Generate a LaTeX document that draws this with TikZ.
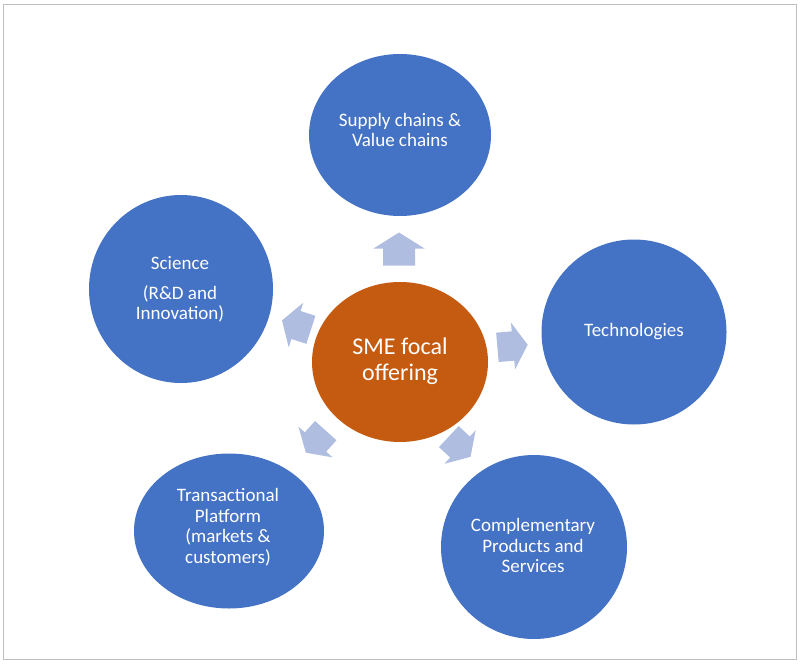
\documentclass[tikz,border=0pt]{standalone}
\usepackage{fontspec}
\setmainfont{Carlito}
\usetikzlibrary{shapes.geometric}
\definecolor{circblue}{HTML}{4472C4}
\definecolor{focalorange}{HTML}{C55A11}
\definecolor{arrowblue}{HTML}{AFBDE0}
\definecolor{framegray}{HTML}{BFBFBF}
\newcommand\radarrow[4]{\fill[blockarrow, shift={(#1,#2)}, rotate=#3, scale=#4]
  (-17,-16) -- (0,-16) -- (0,-25.5) -- (16,0) -- (0,25.5) -- (0,16) -- (-17,16) -- cycle;}
\begin{document}
\begin{tikzpicture}[x=1pt,y=1pt,
  outer/.style={ellipse, fill=circblue, draw=none, inner sep=0pt},
  focal/.style={ellipse, fill=focalorange, draw=none, inner sep=0pt},
  outertext/.style={text=white, font=\fontsize{19}{20.5}\selectfont, align=center, inner sep=0pt},
  focaltext/.style={text=white, font=\fontsize{24}{26.5}\selectfont, align=center, inner sep=0pt},
  blockarrow/.style={fill=arrowblue, draw=none}]
\useasboundingbox (0,0) rectangle (802,665);
\draw[framegray, line width=1.3pt] (3.5,5.5) rectangle (796.5,660.5);

% circles
\node[outer, minimum width=182pt, minimum height=162pt] (sup) at (400,530) {};
\node[outer, minimum width=184pt, minimum height=188pt] (sci) at (181,376) {};
\node[outer, minimum width=185pt, minimum height=185pt] (tech) at (634,333) {};
\node[outer, minimum width=190pt, minimum height=155pt] (trans) at (229,134) {};
\node[outer, minimum width=186pt, minimum height=184pt] (comp) at (534,118) {};
\node[focal, minimum width=176pt, minimum height=160pt] (sme) at (400,303) {};

% texts
\node[outertext] (suptext) at (400,535) {Supply chains \&\\Value chains};
\node[outertext] (scitext) at (180,375.5) {Science\\[9pt](R\&D and\\Innovation)};
\node[outertext] (techtext) at (634,333) {Technologies};
\node[outertext] (transtext) at (228,138) {Transactional\\Platform\\(markets \&\\customers)};
\node[outertext] (comptext) at (533,119.5) {Complementary\\Products and\\Services};
\node[focaltext] (smetext) at (400,304) {SME focal\\offering};

% block arrows
\radarrow{399}{416.5}{90}{1}
\radarrow{296}{340}{162}{0.92}
\radarrow{513}{319}{5}{0.92}
\radarrow{315.5}{223}{228}{0.9}
\radarrow{460}{218}{-43}{0.9}
\end{tikzpicture}
\end{document}
